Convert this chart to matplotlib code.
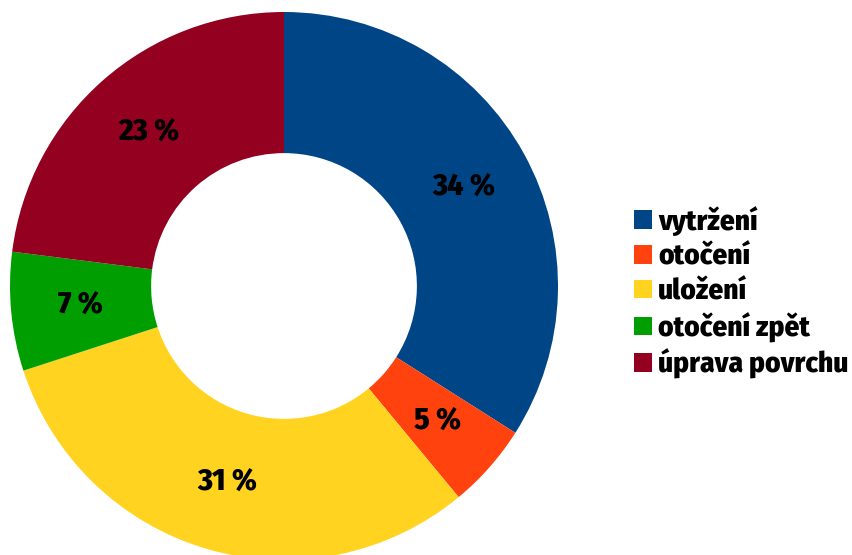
import matplotlib
matplotlib.use("Agg")
import matplotlib.pyplot as plt
from matplotlib.patches import Patch
from matplotlib import font_manager
import numpy as np

categories = ["vytržení", "otočení", "uložení", "otočení zpět", "úprava povrchu"]
values = [34, 5, 31, 7, 23]
labels = ["34 %", "5 %", "31 %", "7 %", "23 %"]
colors = ["#004586", "#ff420e", "#ffd320", "#009e00", "#930020"]

names = {f.name for f in font_manager.fontManager.ttflist}
fam = "DejaVu Sans"
for cand in ["Fira Sans Condensed", "Fira Sans", "Roboto Condensed", "Liberation Sans Narrow", "Open Sans"]:
    if cand in names:
        fam = cand
        break
plt.rcParams["font.family"] = [fam, "DejaVu Sans"]

fig = plt.figure(figsize=(8.53, 5.55), dpi=100)
ax = fig.add_axes([10 / 853, -5 / 555, 548 / 853, 548 / 555])
wedges, _ = ax.pie(values, colors=colors, startangle=90, counterclock=False,
                   radius=1.0, wedgeprops=dict(width=0.515, linewidth=0))
ang = 90.0
for v, lab in zip(values, labels):
    mid = ang - v * 360 / 100 / 2
    ang -= v * 360 / 100
    r = 0.748
    ax.text(r * np.cos(np.radians(mid)), r * np.sin(np.radians(mid)), lab,
            ha="center", va="center", fontsize=22.5, fontweight="heavy", color="#000000")
ax.set_xlim(-1, 1)
ax.set_ylim(-1, 1)
ax.set_aspect("equal")
ax.axis("off")

handles = [Patch(facecolor=c, edgecolor="none") for c in colors]
leg = fig.legend(handles, categories, loc="center left", bbox_to_anchor=(614 / 853, 1 - 293 / 555),
                 frameon=False, prop={"size": 21, "weight": "heavy"},
                 handlelength=0.6, handleheight=0.6,
                 handletextpad=0.22, labelspacing=0.22, borderpad=0.3, borderaxespad=0.4)
fig.savefig("out.png", dpi=100)
